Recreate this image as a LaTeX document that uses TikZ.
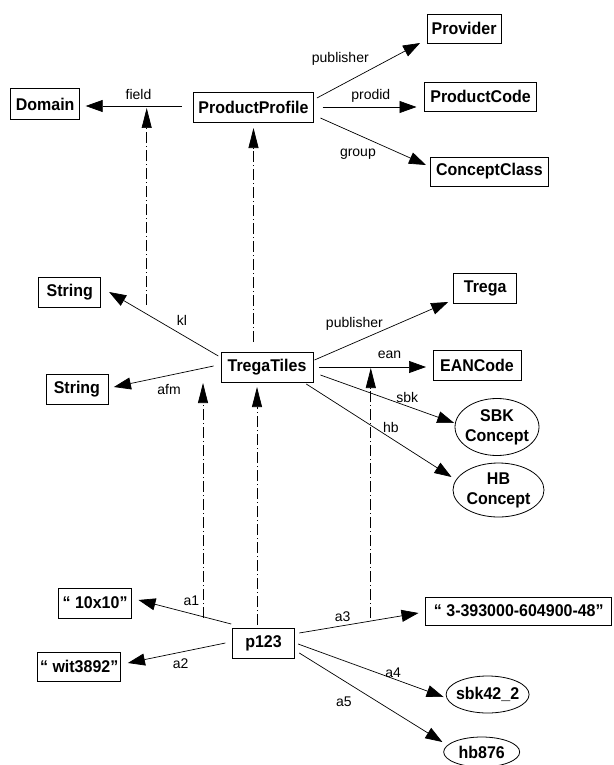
\documentclass[tikz,border=0pt]{standalone}
\usepackage{fontspec}
\setmainfont{Liberation Sans}
\newfontfamily\nfont{Liberation Sans}[FakeStretch=0.94]
\usetikzlibrary{arrows.meta,shapes.geometric}
\begin{document}
\begin{tikzpicture}[x=1pt,y=-1pt,
 box/.style={draw, line width=0.8pt, inner sep=0pt, font={\nfont\bfseries\fontsize{17}{20}\selectfont}, minimum height=29pt},
 ell/.style={ellipse, draw, line width=0.8pt, inner xsep=-4pt, inner ysep=0pt, align=center, font={\nfont\bfseries\fontsize{17}{20}\selectfont}},
 lab/.style={font={\fontsize{14}{16}\selectfont}, inner sep=0pt},
 rel/.style={-{Triangle[length=17pt,width=12pt]}, line width=0.7pt},
 inst/.style={-{Triangle[length=20pt,width=10pt]}, line width=0.7pt, dash pattern=on 11pt off 3pt on 1pt off 3pt}]
\fill[white] (0,0) rectangle (613,765);
\useasboundingbox (0,0) rectangle (613,765);
% top level
\node[box, minimum width=74pt] (prov) at (464.1,28.5) {Provider};
\node[box, minimum width=69pt, minimum height=31pt] (dom) at (45.2,104) {Domain};
\node[box, minimum width=120pt, minimum height=30pt] (pp) at (253.5,107.5) {ProductProfile};
\node[box, minimum width=112pt] (pc) at (480.5,96.5) {ProductCode};
\node[box, minimum width=118pt] (cc) at (489.4,171.5) {ConceptClass};
% middle level
\node[box, minimum width=62pt, minimum height=30pt] (str1) at (69.8,292) {String};
\node[box, minimum width=62pt, minimum height=30pt] (str2) at (76.9,389.5) {String};
\node[box, minimum width=92pt, minimum height=30pt] (tt) at (267,367) {TregaTiles};
\node[box, minimum width=63pt, minimum height=30pt] (trega) at (485.2,288) {Trega};
\node[box, minimum width=88pt, minimum height=30pt] (ean) at (477,365.5) {EANCode};
\node[ell, minimum width=84pt, minimum height=57pt] (sbk) at (497,427) {SBK\\Concept};
\node[ell, minimum width=91pt, minimum height=54pt] (hb) at (498.5,490) {HB\\Concept};
% bottom level
\node[box, minimum width=73pt, minimum height=30pt] (q10) at (95.1,603) {“ 10x10”};
\node[box, minimum width=83pt] (wit) at (79.2,666.5) {“ wit3892”};
\node[box, minimum width=62pt, minimum height=30pt] (p123) at (263.5,643) {p123};
\node[box, minimum width=186pt, minimum height=28pt] (isbn) at (518.8,611) {“ 3-393000-604900-48”};
\node[ell, minimum width=83pt, minimum height=37pt] (sbk42) at (487.6,694.5) {sbk42\_2};
\node[ell, minimum width=76pt, minimum height=30pt] (hb876) at (481.7,752) {hb876};
% relation edges
\draw[rel] ([shift={(-71.6,-1.5)}]pp.center) -- ([shift={(40.5,2)}]dom.center);
\draw[rel] ([shift={(63.4,-9.5)}]pp.center) -- ([shift={(-44,14.5)}]prov.center);
\draw[rel] ([shift={(69.2,-0.5)}]pp.center) -- ([shift={(-64,10.5)}]pc.center);
\draw[rel] ([shift={(66.9,10.5)}]pp.center) -- ([shift={(-63.4,-6.5)}]cc.center);
\draw[rel] ([shift={(-48.7,-11)}]tt.center) -- ([shift={(39.3,0)}]str1.center);
\draw[rel] ([shift={(-53.4,-1)}]tt.center) -- ([shift={(37,-2.5)}]str2.center);
\draw[rel] ([shift={(47.5,-7)}]tt.center) -- ([shift={(-37,14)}]trega.center);
\draw[rel] ([shift={(52.2,0)}]tt.center) -- ([shift={(-51,1.5)}]ean.center);
\draw[rel] ([shift={(53.4,8)}]tt.center) -- ([shift={(-42.8,-4)}]sbk.center);
\draw[rel] ([shift={(39.3,17)}]tt.center) -- ([shift={(-47,-13)}]hb.center);
\draw[rel] ([shift={(-32.3,-19)}]p123.center) -- ([shift={(43.4,-3)}]q10.center);
\draw[rel] ([shift={(-38.1,0)}]p123.center) -- ([shift={(48.7,-3.5)}]wit.center);
\draw[rel] ([shift={(35.8,-10)}]p123.center) -- ([shift={(-100.3,2)}]isbn.center);
\draw[rel] ([shift={(34.6,1)}]p123.center) -- ([shift={(-44,2.5)}]sbk42.center);
\draw[rel] ([shift={(35.8,10)}]p123.center) -- ([shift={(-39.3,-10)}]hb876.center);
% edge labels
\node[lab] (lfield) at (138.5,94) {field};
\node[lab] (lpub1) at (340.3,59) {publisher};
\node[lab] (lprodid) at (370.8,96) {prodid};
\node[lab] (lgroup) at (357.9,154) {group};
\node[lab] (lkl) at (181.9,320) {kl};
\node[lab] (lafm) at (169,389) {afm};
\node[lab] (lpub2) at (354.4,324) {publisher};
\node[lab] (lean) at (389.6,355) {ean};
\node[lab] (lsbk) at (407.2,397) {sbk};
\node[lab] (lhb) at (390.8,427) {hb};
\node[lab] (la1) at (191.3,601) {a1};
\node[lab] (la2) at (180.7,664) {a2};
\node[lab] (la3) at (342.7,617) {a3};
\node[lab] (la4) at (393.1,673) {a4};
\node[lab] (la5) at (343.8,702) {a5};
% instance-of connectors
\coordinate (d1s) at (146.7,305);
\coordinate (d1e) at (146.7,108);
\coordinate (d3s) at (203,618);
\coordinate (d3e) at (203,383);
\coordinate (d5s) at (370.8,618);
\coordinate (d5e) at (370.8,368);
\draw[inst] (d1s) -- (d1e);
\draw[inst] ([shift={(0,-25)}]pp.center |- tt.center) -- ([shift={(0,20.5)}]pp.center);
\draw[inst] (d3s) -- (d3e);
\draw[inst] ([shift={(-6.5,-18)}]p123.center) -- ([shift={(-10,20)}]tt.center);
\draw[inst] (d5s) -- (d5e);
\end{tikzpicture}
\end{document}
